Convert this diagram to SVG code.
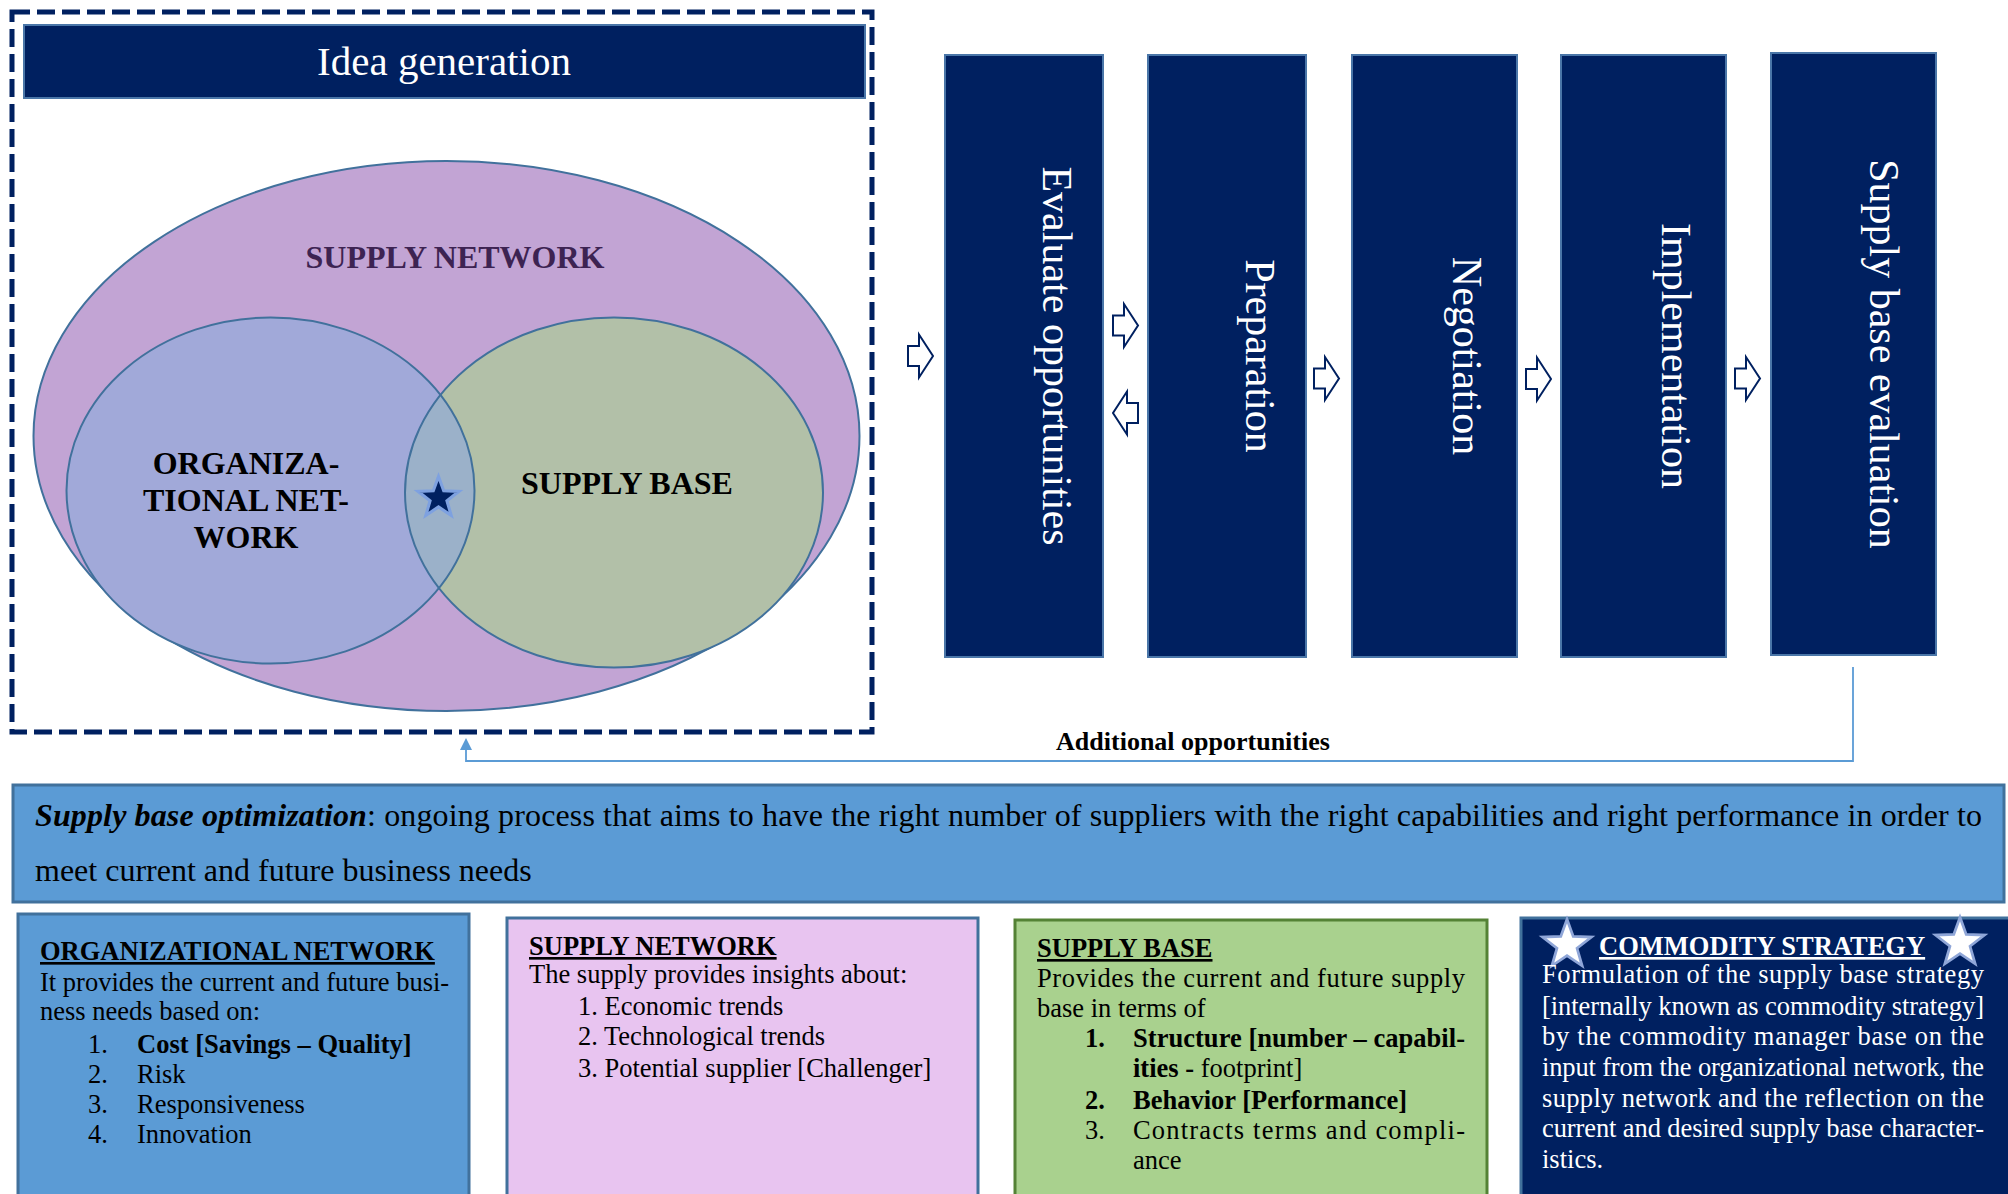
<svg xmlns="http://www.w3.org/2000/svg" xmlns:xlink="http://www.w3.org/1999/xlink" width="2008" height="1194" viewBox="0 0 2008 1194">
<style>
text{font-family:"Liberation Serif","Times New Roman",serif;}
.b{font-weight:bold;}
.u{text-decoration:underline;}
.navy{fill:#002060;stroke:#4a76a8;stroke-width:2;}
.vt{fill:#fff;font-size:42px;text-anchor:middle;}
.arr{fill:#fff;stroke:#002060;stroke-width:2;stroke-linejoin:miter;}
.bx{font-size:26.5px;fill:#000;}
.wh{fill:#fff;}
.venn{font-size:32px;font-weight:bold;text-anchor:middle;}
</style>
<defs>
<path id="rarrow" d="M0,-10 H11 V-21.5 L25,0 L11,21.5 V10 H0 Z"/>
<path id="larrow" d="M25,-10 H14 V-21.5 L0,0 L14,21.5 V10 H25 Z"/>
<path id="star" d="M0,-28 L6.76,-9.3 L26.63,-8.65 L10.94,3.55 L16.46,22.65 L0,11.5 L-16.46,22.65 L-10.94,3.55 L-26.63,-8.65 L-6.76,-9.3 Z"/>
<clipPath id="rclip"><ellipse cx="614" cy="492.5" rx="209" ry="175"/></clipPath>
<marker id="ah" markerUnits="userSpaceOnUse" markerWidth="12" markerHeight="13" viewBox="0 0 12 12" refX="6" refY="6" orient="auto">
<path d="M0,0 L12,6 L0,12 Z" fill="#5b9bd5"/>
</marker>
</defs>
<rect width="2008" height="1194" fill="#fff"/>

<g id="idea-generation">
<rect x="12" y="12" width="860" height="720" fill="none" stroke="#002060" stroke-width="5" stroke-dasharray="18 7"/>
<rect x="24" y="25" width="841" height="73" class="navy"/>
<text x="444" y="75" fill="#fff" font-size="41" text-anchor="middle">Idea generation</text>
</g>

<g id="venn">
<ellipse id="supply-network" cx="446.5" cy="436" rx="413" ry="275" fill="#c2a4d4" stroke="#41719c" stroke-width="2"/>
<ellipse cx="614" cy="492.5" rx="209" ry="175" fill="#b2c0a8"/>
<ellipse cx="270.5" cy="490.5" rx="204" ry="173" fill="#a1a9d9"/>
<ellipse cx="270.5" cy="490.5" rx="204" ry="173" fill="#9bb1c9" clip-path="url(#rclip)"/>
<ellipse id="organizational-network" cx="270.5" cy="490.5" rx="204" ry="173" fill="none" stroke="#41719c" stroke-width="2"/>
<ellipse id="supply-base" cx="614" cy="492.5" rx="209" ry="175" fill="none" stroke="#41719c" stroke-width="2"/>
<text x="455" y="268" class="venn" fill="#3d2352">SUPPLY NETWORK</text>
<text class="venn" fill="#000"><tspan x="246" y="474">ORGANIZA-</tspan><tspan x="246" y="511">TIONAL NET-</tspan><tspan x="246" y="548">WORK</tspan></text>
<text x="627" y="494" class="venn" fill="#000">SUPPLY BASE</text>
<use xlink:href="#star" transform="translate(438.5,498) scale(0.77)" fill="#002060" stroke="#7ea1e0" stroke-width="4"/>
</g>

<g id="step-evaluate">
<rect x="945" y="55" width="158" height="602" class="navy"/>
<text class="vt" transform="translate(1043,356) rotate(90)">Evaluate opportunities</text>
</g>
<g id="step-preparation">
<rect x="1148" y="55" width="158" height="602" class="navy"/>
<text class="vt" transform="translate(1246,356) rotate(90)">Preparation</text>
</g>
<g id="step-negotiation">
<rect x="1352" y="55" width="165" height="602" class="navy"/>
<text class="vt" transform="translate(1453,356) rotate(90)">Negotiation</text>
</g>
<g id="step-implementation">
<rect x="1561" y="55" width="165" height="602" class="navy"/>
<text class="vt" transform="translate(1662,356) rotate(90)">Implementation</text>
</g>
<g id="step-evaluation">
<rect x="1771" y="53" width="165" height="602" class="navy"/>
<text class="vt" transform="translate(1870,354) rotate(90)">Supply base evaluation</text>
</g>

<g id="connectors">
<use xlink:href="#rarrow" class="arr" transform="translate(908,356)"/>
<use xlink:href="#rarrow" class="arr" transform="translate(1113,325.5)"/>
<use xlink:href="#larrow" class="arr" transform="translate(1113,413)"/>
<use xlink:href="#rarrow" class="arr" transform="translate(1314,378.5)"/>
<use xlink:href="#rarrow" class="arr" transform="translate(1526,379)"/>
<use xlink:href="#rarrow" class="arr" transform="translate(1735,378.5)"/>
<path d="M1853,667 V761 H466 V744" fill="none" stroke="#5b9bd5" stroke-width="1.8" marker-end="url(#ah)"/>
<text x="1193" y="750" font-size="26" font-weight="bold" text-anchor="middle" fill="#000">Additional opportunities</text>
</g>

<g id="banner">
<rect x="13" y="785" width="1991" height="117" fill="#5b9bd5" stroke="#41719c" stroke-width="3"/>
<text x="35" y="826" font-size="32" fill="#000" textLength="1947" lengthAdjust="spacing"><tspan font-weight="bold" font-style="italic">Supply base optimization</tspan>: ongoing process that aims to have the right number of suppliers with the right capabilities and right performance in order to</text>
<text x="35" y="881" font-size="32" fill="#000">meet current and future business needs</text>
</g>

<g id="box-organizational">
<rect x="18" y="914" width="451" height="290" fill="#5b9bd5" stroke="#41719c" stroke-width="3"/>
<text x="40" y="960" class="bx b u">ORGANIZATIONAL NETWORK</text>
<text x="40" y="990.5" class="bx">It provides the current and future busi-</text>
<text x="40" y="1020" class="bx">ness needs based on:</text>
<text x="88" y="1053" class="bx">1.</text><text x="137" y="1053" class="bx b">Cost [Savings – Quality]</text>
<text x="88" y="1082.5" class="bx">2.</text><text x="137" y="1082.5" class="bx">Risk</text>
<text x="88" y="1113" class="bx">3.</text><text x="137" y="1113" class="bx">Responsiveness</text>
<text x="88" y="1143" class="bx">4.</text><text x="137" y="1143" class="bx">Innovation</text>
</g>

<g id="box-supply-network">
<rect x="507" y="918" width="471" height="290" fill="#e8c4f0" stroke="#41719c" stroke-width="3"/>
<text x="529" y="955" class="bx b u">SUPPLY NETWORK</text>
<text x="529" y="983" class="bx">The supply provides insights about:</text>
<text x="578" y="1015" class="bx">1. Economic trends</text>
<text x="578" y="1045" class="bx">2. Technological trends</text>
<text x="578" y="1076.5" class="bx">3. Potential supplier [Challenger]</text>
</g>

<g id="box-supply-base">
<rect x="1015" y="920" width="472" height="290" fill="#a9d18e" stroke="#548235" stroke-width="3"/>
<text x="1037" y="957" class="bx b u">SUPPLY BASE</text>
<text x="1037" y="987" class="bx" textLength="428" lengthAdjust="spacing">Provides the current and future supply</text>
<text x="1037" y="1016.5" class="bx">base in terms of</text>
<text x="1085" y="1046.5" class="bx b">1.</text><text x="1133" y="1046.5" class="bx b" textLength="332" lengthAdjust="spacing">Structure [number – capabil-</text>
<text x="1133" y="1076.5" class="bx"><tspan font-weight="bold">ities -</tspan> footprint]</text>
<text x="1085" y="1109" class="bx b">2.</text><text x="1133" y="1109" class="bx b">Behavior [Performance]</text>
<text x="1085" y="1139" class="bx">3.</text><text x="1133" y="1139" class="bx" textLength="332" lengthAdjust="spacing">Contracts terms and compli-</text>
<text x="1133" y="1169" class="bx">ance</text>
</g>

<g id="box-commodity-strategy">
<rect x="1521" y="918" width="490" height="290" fill="#002060" stroke="#41719c" stroke-width="3"/>
<use xlink:href="#star" transform="translate(1567,945) scale(0.92)" fill="#fff" stroke="#8fa6d8" stroke-width="3"/>
<use xlink:href="#star" transform="translate(1960,943) scale(0.92)" fill="#fff" stroke="#8fa6d8" stroke-width="3"/>
<text x="1599" y="955" class="bx b u wh">COMMODITY STRATEGY</text>
<text x="1542" y="983" class="bx wh" textLength="442" lengthAdjust="spacing">Formulation of the supply base strategy</text>
<text x="1542" y="1015" class="bx wh" textLength="442" lengthAdjust="spacing">[internally known as commodity strategy]</text>
<text x="1542" y="1045" class="bx wh" textLength="442" lengthAdjust="spacing">by the commodity manager base on the</text>
<text x="1542" y="1076" class="bx wh" textLength="442" lengthAdjust="spacing">input from the organizational network, the</text>
<text x="1542" y="1106.5" class="bx wh" textLength="442" lengthAdjust="spacing">supply network and the reflection on the</text>
<text x="1542" y="1137" class="bx wh" textLength="442" lengthAdjust="spacing">current and desired supply base character-</text>
<text x="1542" y="1168" class="bx wh">istics.</text>
</g>
</svg>
